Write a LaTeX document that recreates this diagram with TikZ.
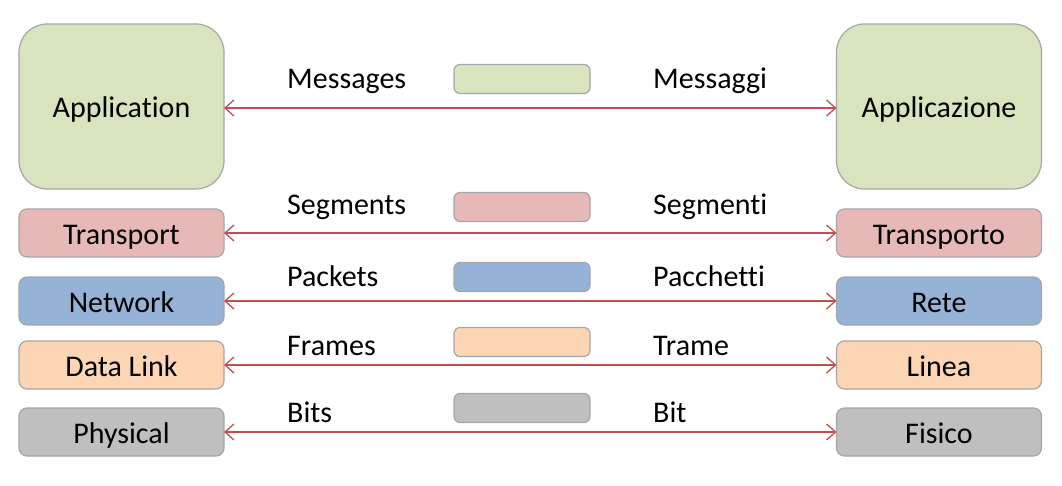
\documentclass[tikz,border=0pt]{standalone}
\usepackage{fontspec}
\setmainfont{Carlito}[RawFeature={-liga;-clig;-dlig}]
\usetikzlibrary{arrows.meta}
\definecolor{cgreen}{HTML}{D7E4BD}
\definecolor{cpink}{HTML}{E6B9B8}
\definecolor{cblue}{HTML}{95B3D7}
\definecolor{cpeach}{HTML}{FCD5B5}
\definecolor{cgray}{HTML}{BFBFBF}
\definecolor{cborder}{HTML}{A6A6A6}
\definecolor{cred}{HTML}{C0504D}
\begin{document}
\begin{tikzpicture}[x=1pt,y=-1pt,
  font=\fontsize{30}{36}\selectfont,
  layer/.style={draw=cborder, line width=1.2pt, rounded corners=8pt, minimum width=205pt, minimum height=48pt, inner sep=0pt, outer sep=0pt, text height=22pt, text depth=0pt},
  appbox/.style={layer, rounded corners=28pt, minimum height=165pt},
  pdu/.style={draw=cborder, line width=1.2pt, rounded corners=6pt, minimum width=136pt, minimum height=29pt, inner sep=0pt, outer sep=0pt},
  lbl/.style={anchor=base west, inner sep=0pt},
  arr/.style={draw=cred, line width=1.3pt, {Straight Barb[length=9pt,width=16pt,line width=1.3pt]}-{Straight Barb[length=9pt,width=16pt,line width=1.3pt]}}
]
\useasboundingbox (0,0) rectangle (1062,486);
% left stack
\node[appbox, fill=cgreen] (appL) at (121.5,106.5) {Application};
\node[layer, fill=cpink]  (trL) at (121.5,233) {Transport};
\node[layer, fill=cblue]  (nwL) at (121.5,301) {Network};
\node[layer, fill=cpeach] (dlL) at (121.5,365) {Data Link};
\node[layer, fill=cgray]  (phL) at (121.5,432) {Physical};
% right stack
\node[appbox, fill=cgreen] (appR) at (939,106.5) {Applicazione};
\node[layer, fill=cpink]  (trR) at (939,233) {Transporto};
\node[layer, fill=cblue]  (nwR) at (939,301) {Rete};
\node[layer, fill=cpeach] (dlR) at (939,365) {Linea};
\node[layer, fill=cgray]  (phR) at (939,432) {Fisico};
% PDU bars
\node[pdu, fill=cgreen] (p1) at (522,79) {};
\node[pdu, fill=cpink]  (p2) at (522,207) {};
\node[pdu, fill=cblue]  (p3) at (522,277) {};
\node[pdu, fill=cpeach] (p4) at (522,342) {};
\node[pdu, fill=cgray]  (p5) at (522,408) {};
% labels
\node[lbl] (m1) at (287,89) {Messages};
\node[lbl] (m2) at (287,215) {Segments};
\node[lbl] (m3) at (287,287) {Packets};
\node[lbl] (m4) at (287,355) {Frames};
\node[lbl] (m5) at (287,422) {Bits};
\node[lbl] (i1) at (653,89) {Messaggi};
\node[lbl] (i2) at (653,215) {Segmenti};
\node[lbl] (i3) at (653,287) {Pacchetti};
\node[lbl] (i4) at (653,355) {Trame};
\node[lbl] (i5) at (653,422) {Bit};
% arrows
\draw[arr] (appL.east |- 0,108) -- (appR.west |- 0,108);
\draw[arr] (trL) -- (trR);
\draw[arr] (nwL) -- (nwR);
\draw[arr] (dlL) -- (dlR);
\draw[arr] (phL) -- (phR);
\end{tikzpicture}
\end{document}
